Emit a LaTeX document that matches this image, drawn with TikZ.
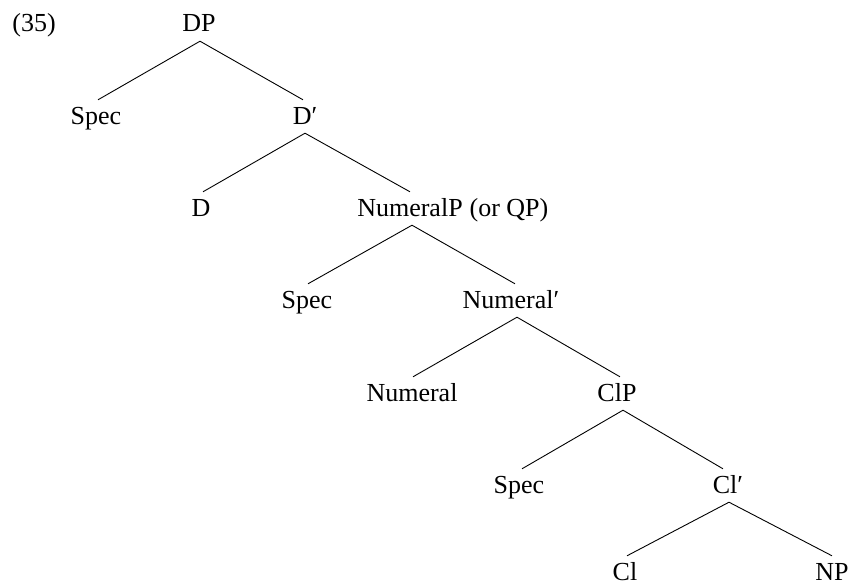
\documentclass[tikz,border=0pt]{standalone}
\usepackage{fontspec}
\setmainfont{Liberation Serif}
\begin{document}
\begin{tikzpicture}[x=1pt,y=-1pt,
  lab/.style={anchor=base, inner xsep=0pt, inner ysep=4.5pt, text height=19.5pt, text depth=4.5pt,
    font=\fontsize{26}{30}\selectfont},
  leaflab/.style={lab, inner ysep=0pt, text height=24pt, text depth=0pt},
  branch/.style={draw=black, line width=0.9pt}]
\useasboundingbox (0,0) rectangle (851,586);
% labels
\node[lab] (ex) at (34,32) {(35)};
\node[lab] (dp) at (199,32) {DP};
\node[lab] (spec1) at (96,124) {Spec};
\node[lab] (dbar) at (305,124) {D′};
\node[lab] (d) at (201,216) {D};
\node[lab] (nump) at (410,216) {NumeralP};
\node[lab, anchor=base west] (orqp) at ([xshift=6.5pt]nump.base east) {(or QP)};
\node[lab] (spec2) at (307,308) {Spec};
\node[lab] (numbar) at (511,308) {Numeral′};
\node[lab] (numeral) at (412,401) {Numeral};
\node[lab] (clp) at (617,401) {ClP};
\node[lab] (spec3) at (519,493) {Spec};
\node[lab] (clbar) at (728,493) {Cl′};
\node[leaflab] (cl) at (625,580) {Cl};
\node[leaflab] (np) at (832,580) {NP};
% branches
\draw[branch] ([xshift=1pt]dp.south) -- ([xshift=2pt]spec1.north);
\draw[branch] ([xshift=1pt]dp.south) -- ([xshift=-2pt]dbar.north);
\draw[branch] (dbar.south) -- ([xshift=2pt]d.north);
\draw[branch] (dbar.south) -- (nump.north);
\draw[branch] ([xshift=2pt]nump.south) -- ([xshift=1pt]spec2.north);
\draw[branch] ([xshift=2pt]nump.south) -- ([xshift=4pt]numbar.north);
\draw[branch] ([xshift=6pt]numbar.south) -- ([xshift=1pt]numeral.north);
\draw[branch] ([xshift=6pt]numbar.south) -- ([xshift=3pt]clp.north);
\draw[branch] ([xshift=6pt]clp.south) -- ([xshift=3pt]spec3.north);
\draw[branch] ([xshift=6pt]clp.south) -- ([xshift=-5pt]clbar.north);
\draw[branch] ([xshift=1pt]clbar.south) -- ([xshift=2pt]cl.north);
\draw[branch] ([xshift=1pt]clbar.south) -- (np.north);
\end{tikzpicture}
\end{document}
